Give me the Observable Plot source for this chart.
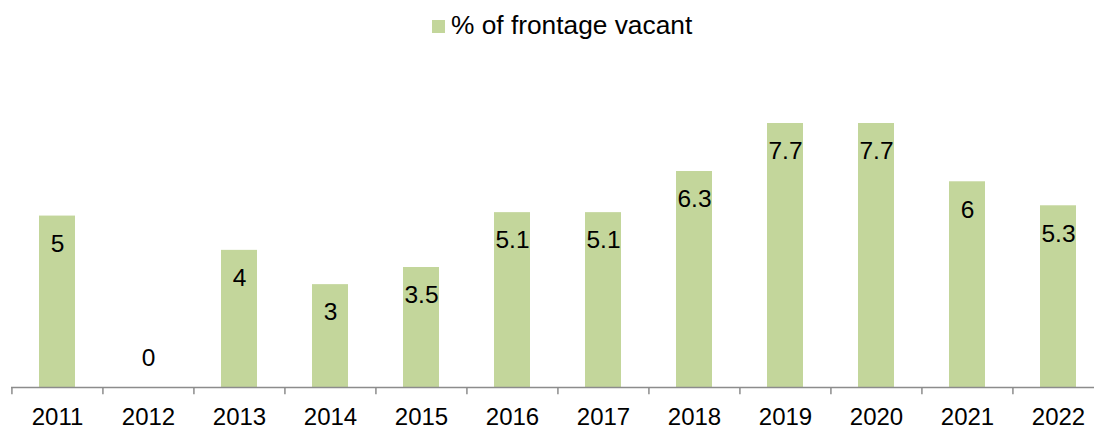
<!DOCTYPE html>
<html>
<head>
<meta charset="utf-8">
<script src="https://cdn.jsdelivr.net/npm/d3@7"></script>
<script src="https://cdn.jsdelivr.net/npm/@observablehq/plot@0.6"></script>
<style>
  html, body { margin: 0; padding: 0; background: #fff; }
  body { width: 1094px; height: 430px; overflow: hidden; font-family: "Liberation Sans", Arial, sans-serif; }
  #legend { height: 50px; position: relative; }
  #legend .sw { position: absolute; left: 432px; top: 20px; width: 13px; height: 13px; background: #c3d69b; }
  #legend .lb { position: absolute; left: 451px; top: 10px; font-size: 26.3px; line-height: 30px; color: #000; white-space: nowrap; }
</style>
</head>
<body>
<div id="legend"><span class="sw"></span><span class="lb">% of frontage vacant</span></div>
<div id="chart"></div>
<script>
const years = ["2011","2012","2013","2014","2015","2016","2017","2018","2019","2020","2021","2022"];
const vacant = [5, 0, 4, 3, 3.5, 5.1, 5.1, 6.3, 7.7, 7.7, 6, 5.3];
const seriesName = "% of frontage vacant";

const data = years.map((y, i) => ({year: y, value: vacant[i]}));
const barColor = "#c3d69b";
const step = (1105 - 11) / years.length;

const chart = Plot.plot({
  width: 1094,
  height: 380,
  marginTop: 73,
  marginBottom: 43,
  marginLeft: 11,
  marginRight: 0,
  style: {fontFamily: "'Liberation Sans', Arial, sans-serif", background: "#fff", color: "#000"},
  x: {domain: years, range: [11, 1105], paddingInner: 0.6, paddingOuter: 0.3, align: 0.5, label: null},
  y: {domain: [0, 7.7], axis: null},
  marks: [
    Plot.barY(data, {x: "year", y: "value", fill: barColor}),
    Plot.ruleY([0], {stroke: "#8c8c8c", strokeWidth: 1.5}),
    Plot.ruleX(data, {x: "year", y1: 0, y2: -0.21, dx: -step / 2, stroke: "#8c8c8c", strokeWidth: 1.5}),
    Plot.text(data.filter(d => d.value > 0), {x: "year", y: "value", text: d => String(d.value), dy: 28, fontSize: 24.5, fill: "#000"}),
    Plot.text(data.filter(d => d.value === 0), {x: "year", y: "value", text: d => String(d.value), dy: -29, fontSize: 24.5, fill: "#000"}),
    Plot.axisX({tickSize: 0, tickPadding: 20, fontSize: 24, fill: "#000", label: null})
  ]
});
document.getElementById("chart").appendChild(chart);
</script>
</body>
</html>
